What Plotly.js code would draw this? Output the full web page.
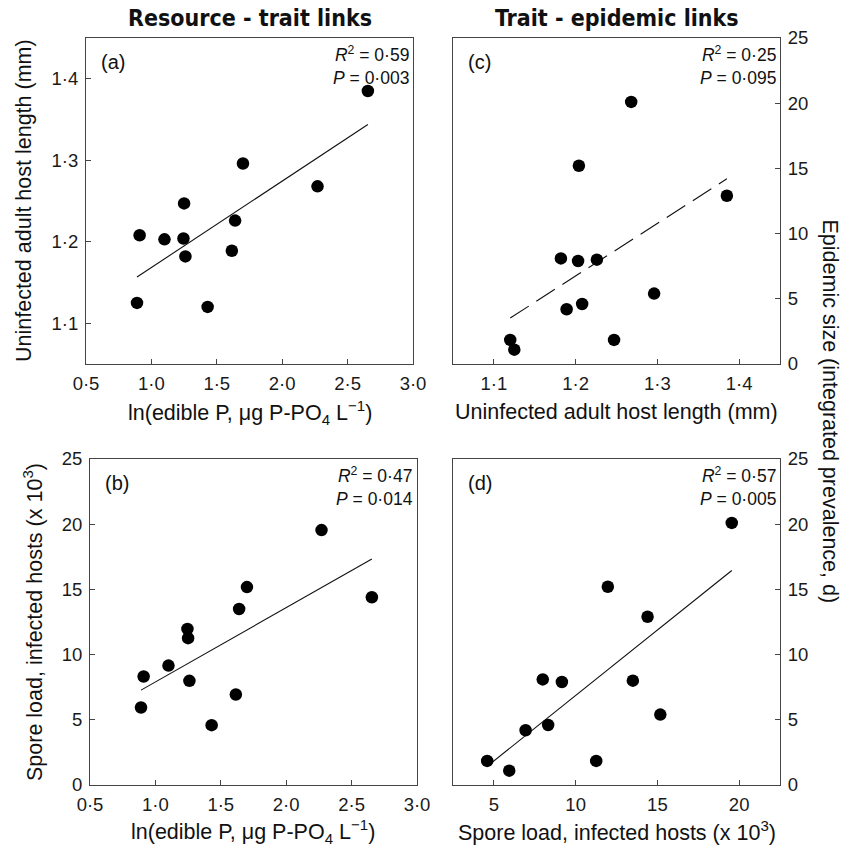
<!DOCTYPE html>
<html>
<head>
<meta charset="utf-8">
<script src="https://cdn.plot.ly/plotly-3.0.1.min.js"></script>
<style>html,body{margin:0;padding:0;background:#fff;}#chart{width:848px;height:848px;}</style>
</head>
<body>
<div id="chart"></div>
<script>
// Data: 12 lakes
const edibleP      = [0.89, 0.91, 1.10, 1.245, 1.25, 1.26, 1.43, 1.615, 1.64, 1.70, 2.27, 2.655];
const hostLength   = [1.125, 1.208, 1.203, 1.204, 1.247, 1.182, 1.120, 1.189, 1.226, 1.296, 1.268, 1.385];
const sporeLoad    = [5.94, 8.32, 9.16, 11.97, 11.26, 7.99, 4.59, 6.94, 13.50, 15.18, 19.55, 14.40];
const epidemicSize = [1.1, 4.6, 7.9, 15.2, 1.85, 8.1, 1.85, 4.2, 8.0, 5.4, 20.1, 12.9];

const panelTitles = ['Resource - trait links', 'Trait - epidemic links'];
const panelLabels = ['(a)', '(b)', '(c)', '(d)'];
const statsText = [
  '<i>R</i><sup>2</sup> = 0·59<br><i>P</i> = 0·003',
  '<i>R</i><sup>2</sup> = 0·47<br><i>P</i> = 0·014',
  '<i>R</i><sup>2</sup> = 0·25<br><i>P</i> = 0·095',
  '<i>R</i><sup>2</sup> = 0·57<br><i>P</i> = 0·005'
];
const xTitles = ['ln(edible P, μg P-PO<sub>4</sub> L<sup>−1</sup>)',
                 'ln(edible P, μg P-PO<sub>4</sub> L<sup>−1</sup>)',
                 'Uninfected adult host length (mm)',
                 'Spore load, infected hosts (x 10<sup>3</sup>)'];
const yTitleA = 'Uninfected adult host length (mm)';
const yTitleB = 'Spore load, infected hosts (x 10<sup>3</sup>)';
const yTitleRight = 'Epidemic size (integrated prevalence, d)';

function fit(x, y) {
  const n = x.length;
  const mx = x.reduce((a, b) => a + b, 0) / n;
  const my = y.reduce((a, b) => a + b, 0) / n;
  let sxy = 0, sxx = 0;
  for (let i = 0; i < n; i++) { sxy += (x[i] - mx) * (y[i] - my); sxx += (x[i] - mx) ** 2; }
  const b = sxy / sxx, a = my - b * mx;
  const x0 = Math.min(...x), x1 = Math.max(...x);
  return { x: [x0, x1], y: [a + b * x0, a + b * x1] };
}

const W = 848, H = 848;
const PX = p => p / W;
const PY = p => 1 - p / H;

const FONT = 'Liberation Sans, Arial, Helvetica, sans-serif';
const marker = { color: '#000', size: 12.5, line: { width: 0 } };

const panels = [
  { x: edibleP, y: hostLength, xa: 'x', ya: 'y', dash: 'solid' },
  { x: edibleP, y: sporeLoad, xa: 'x2', ya: 'y2', dash: 'solid' },
  { x: hostLength, y: epidemicSize, xa: 'x3', ya: 'y3', dash: '22px,9px' },
  { x: sporeLoad, y: epidemicSize, xa: 'x4', ya: 'y4', dash: 'solid' }
];

const traces = [];
panels.forEach(p => {
  const f = fit(p.x, p.y);
  traces.push({ type: 'scatter', mode: 'lines', x: f.x, y: f.y, xaxis: p.xa, yaxis: p.ya,
    line: { color: '#111', width: 1.1, dash: p.dash }, hoverinfo: 'skip' });
  traces.push({ type: 'scatter', mode: 'markers', x: p.x, y: p.y, xaxis: p.xa, yaxis: p.ya, marker: marker });
});

const base = {
  showline: true, linecolor: '#444', linewidth: 1, mirror: true,
  ticks: 'inside', ticklen: 5, tickcolor: '#444', tickwidth: 1,
  showgrid: false, zeroline: false, automargin: false, fixedrange: true,
  tickfont: { family: FONT, size: 18.5, color: '#1a1a1a' }, ticklabelstandoff: 3
};

// frames (px)
const fA = { l: 86, r: 413, t: 38, b: 364 };
const fB = { l: 90, r: 417, t: 459, b: 785 };
const fC = { l: 453, r: 780, t: 38, b: 364 };
const fD = { l: 453, r: 780, t: 459, b: 785 };
const frames = [fA, fB, fC, fD];
const dx = f => [PX(f.l), PX(f.r)];
const dy = f => [PY(f.b), PY(f.t)];

const layout = {
  width: W, height: H,
  margin: { l: 0, r: 0, t: 0, b: 0 },
  paper_bgcolor: '#fff', plot_bgcolor: '#fff',
  showlegend: false,
  separators: '·,',
  font: { family: FONT, color: '#111' },
  xaxis:  Object.assign({}, base, { domain: dx(fA), anchor: 'y',  range: [0.5, 3.0], tick0: 0.5, dtick: 0.5, tickformat: '.1f' }),
  yaxis:  Object.assign({}, base, { domain: dy(fA), anchor: 'x',  range: [1.05, 1.45], tickvals: [1.1, 1.2, 1.3, 1.4], tickformat: '.1f' }),
  xaxis2: Object.assign({}, base, { domain: dx(fB), anchor: 'y2', range: [0.5, 3.0], tick0: 0.5, dtick: 0.5, tickformat: '.1f' }),
  yaxis2: Object.assign({}, base, { domain: dy(fB), anchor: 'x2', range: [0, 25], tick0: 0, dtick: 5 }),
  xaxis3: Object.assign({}, base, { domain: dx(fC), anchor: 'y3', range: [1.05, 1.45], tickvals: [1.1, 1.2, 1.3, 1.4], tickformat: '.1f' }),
  yaxis3: Object.assign({}, base, { domain: dy(fC), anchor: 'x3', range: [0, 25], tick0: 0, dtick: 5, side: 'right' }),
  xaxis4: Object.assign({}, base, { domain: dx(fD), anchor: 'y4', range: [2.5, 22.5], tickvals: [5, 10, 15, 20] }),
  yaxis4: Object.assign({}, base, { domain: dy(fD), anchor: 'x4', range: [0, 25], tick0: 0, dtick: 5, side: 'right' }),
  annotations: []
};

const ann = (text, x, y, opts) => Object.assign({
  text: text, x: PX(x), y: PY(y), xref: 'paper', yref: 'paper',
  showarrow: false, xanchor: 'center', yanchor: 'middle',
  font: { family: FONT, size: 21.5, color: '#111' }
}, opts || {});

const titleFont = { family: 'Liberation Sans Narrow, DejaVu Sans Condensed, ' + FONT, size: 23, color: '#111' };
// panel titles
layout.annotations.push(ann('<b>' + panelTitles[0] + '</b>', (fA.l + fA.r) / 2, 18, { font: titleFont }));
layout.annotations.push(ann('<b>' + panelTitles[1] + '</b>', (fC.l + fC.r) / 2, 18, { font: titleFont }));

frames.forEach((f, i) => {
  layout.annotations.push(ann(panelLabels[i], f.l + 13, f.t + 24, { xanchor: 'left', font: { family: FONT, size: 20, color: '#111' } }));
  layout.annotations.push(ann(statsText[i], f.r - 2, f.t + 3, { xanchor: 'right', yanchor: 'top', align: 'right',
    font: { family: FONT, size: 17.5, color: '#111' } }));
  layout.annotations.push(ann(xTitles[i], (f.l + f.r) / 2, f.b + (f.t > 400 ? 46 : 48)));
});

layout.annotations.push(ann(yTitleA, 24, (fA.t + fA.b) / 2, { textangle: -90 }));
layout.annotations.push(ann(yTitleB, 33, (fB.t + fB.b) / 2, { textangle: -90 }));
layout.annotations.push(ann(yTitleRight, 830, (fC.t + fD.b) / 2, { textangle: 90 }));

Plotly.newPlot('chart', traces, layout, { displayModeBar: false, staticPlot: true });
</script>
</body>
</html>
